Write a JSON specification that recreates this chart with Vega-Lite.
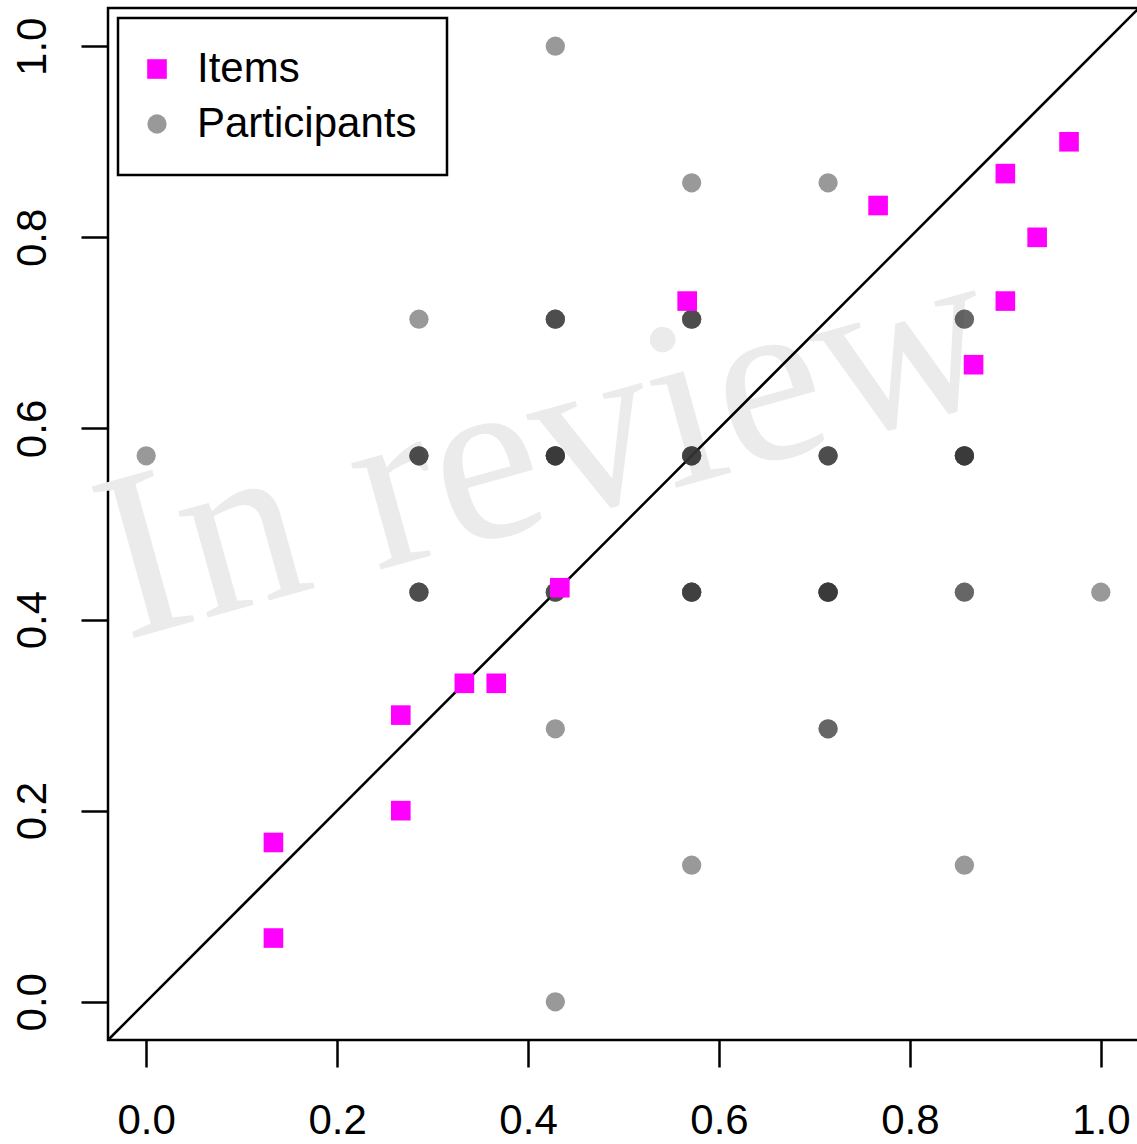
{
  "$schema": "https://vega.github.io/schema/vega-lite/v6.json",
  "width": 1031,
  "height": 1032,
  "autosize": {"type": "none"},
  "padding": {"left": 108, "top": 8, "right": 0, "bottom": 104},
  "background": "white",
  "config": {
    "view": {"stroke": "black", "strokeWidth": 2.5},
    "axis": {
      "domain": false,
      "grid": false,
      "ticks": true,
      "tickSize": 27,
      "tickWidth": 2.5,
      "tickColor": "black",
      "labelFont": "Liberation Sans",
      "labelFontSize": 42,
      "labelColor": "black",
      "labelFlush": false,
      "labelOverlap": false,
      "title": null
    },
    "legend": {
      "orient": "none",
      "legendX": 10,
      "legendY": 10,
      "strokeColor": "black",
      "strokeWidth": 2.5,
      "fillColor": "white",
      "padding": 30,
      "labelFont": "Liberation Sans",
      "labelFontSize": 42,
      "labelColor": "black",
      "labelLimit": 0,
      "labelOffset": 19,
      "symbolOffset": -12,
      "rowPadding": 13,
      "symbolStrokeWidth": 0,
      "title": null
    }
  },
  "encoding": {
    "x": {
      "field": "x",
      "type": "quantitative",
      "scale": {"domain": [-0.04, 1.04], "nice": false, "zero": false},
      "axis": {"values": [0, 0.2, 0.4, 0.6, 0.8, 1.0], "format": ".1f", "labelPadding": 33}
    },
    "y": {
      "field": "y",
      "type": "quantitative",
      "scale": {"domain": [-0.04, 1.04], "nice": false, "zero": false},
      "axis": {"values": [0, 0.2, 0.4, 0.6, 0.8, 1.0], "format": ".1f", "labelAngle": 270, "labelAlign": "center", "labelBaseline": "bottom", "labelPadding": 27}
    }
  },
  "layer": [
    {
      "data": {"values": [{"x": 0.439, "y": 0.506, "label": "In review"}]},
      "mark": {"type": "text", "font": "Liberation Serif", "fontSize": 240, "angle": 344.5, "color": "#ebebeb", "align": "center", "baseline": "alphabetic"},
      "encoding": {"text": {"field": "label"}}
    },
    {
      "data": {"values": [{"x": -0.04, "y": -0.04}, {"x": 1.04, "y": 1.04}]},
      "mark": {"type": "line", "color": "black", "strokeWidth": 2.5},
      "encoding": {}
    },
    {
      "data": {"values": [
        {"group": "Participants", "x": 0, "y": 0.5714},
        {"group": "Participants", "x": 0.2857, "y": 0.7143},
        {"group": "Participants", "x": 0.4286, "y": 1},
        {"group": "Participants", "x": 0.4286, "y": 0.2857},
        {"group": "Participants", "x": 0.4286, "y": 0},
        {"group": "Participants", "x": 0.5714, "y": 0.8571},
        {"group": "Participants", "x": 0.5714, "y": 0.1429},
        {"group": "Participants", "x": 0.7143, "y": 0.8571},
        {"group": "Participants", "x": 0.8571, "y": 0.1429},
        {"group": "Participants", "x": 1, "y": 0.4286},
        {"group": "Participants", "x": 0.8571, "y": 0.7143},
        {"group": "Participants", "x": 0.8571, "y": 0.7143},
        {"group": "Participants", "x": 0.8571, "y": 0.4286},
        {"group": "Participants", "x": 0.8571, "y": 0.4286},
        {"group": "Participants", "x": 0.7143, "y": 0.2857},
        {"group": "Participants", "x": 0.7143, "y": 0.2857},
        {"group": "Participants", "x": 0.4286, "y": 0.7143},
        {"group": "Participants", "x": 0.4286, "y": 0.7143},
        {"group": "Participants", "x": 0.4286, "y": 0.7143},
        {"group": "Participants", "x": 0.5714, "y": 0.7143},
        {"group": "Participants", "x": 0.5714, "y": 0.7143},
        {"group": "Participants", "x": 0.5714, "y": 0.7143},
        {"group": "Participants", "x": 0.2857, "y": 0.5714},
        {"group": "Participants", "x": 0.2857, "y": 0.5714},
        {"group": "Participants", "x": 0.2857, "y": 0.5714},
        {"group": "Participants", "x": 0.4286, "y": 0.5714},
        {"group": "Participants", "x": 0.4286, "y": 0.5714},
        {"group": "Participants", "x": 0.4286, "y": 0.5714},
        {"group": "Participants", "x": 0.4286, "y": 0.5714},
        {"group": "Participants", "x": 0.4286, "y": 0.5714},
        {"group": "Participants", "x": 0.5714, "y": 0.5714},
        {"group": "Participants", "x": 0.5714, "y": 0.5714},
        {"group": "Participants", "x": 0.5714, "y": 0.5714},
        {"group": "Participants", "x": 0.5714, "y": 0.5714},
        {"group": "Participants", "x": 0.7143, "y": 0.5714},
        {"group": "Participants", "x": 0.7143, "y": 0.5714},
        {"group": "Participants", "x": 0.7143, "y": 0.5714},
        {"group": "Participants", "x": 0.8571, "y": 0.5714},
        {"group": "Participants", "x": 0.8571, "y": 0.5714},
        {"group": "Participants", "x": 0.8571, "y": 0.5714},
        {"group": "Participants", "x": 0.8571, "y": 0.5714},
        {"group": "Participants", "x": 0.8571, "y": 0.5714},
        {"group": "Participants", "x": 0.2857, "y": 0.4286},
        {"group": "Participants", "x": 0.2857, "y": 0.4286},
        {"group": "Participants", "x": 0.2857, "y": 0.4286},
        {"group": "Participants", "x": 0.4286, "y": 0.4286},
        {"group": "Participants", "x": 0.4286, "y": 0.4286},
        {"group": "Participants", "x": 0.4286, "y": 0.4286},
        {"group": "Participants", "x": 0.5714, "y": 0.4286},
        {"group": "Participants", "x": 0.5714, "y": 0.4286},
        {"group": "Participants", "x": 0.5714, "y": 0.4286},
        {"group": "Participants", "x": 0.5714, "y": 0.4286},
        {"group": "Participants", "x": 0.7143, "y": 0.4286},
        {"group": "Participants", "x": 0.7143, "y": 0.4286},
        {"group": "Participants", "x": 0.7143, "y": 0.4286},
        {"group": "Participants", "x": 0.7143, "y": 0.4286},
        {"group": "Participants", "x": 0.7143, "y": 0.4286},
        {"group": "Items", "x": 0.1333, "y": 0.1667},
        {"group": "Items", "x": 0.1333, "y": 0.0667},
        {"group": "Items", "x": 0.2667, "y": 0.3},
        {"group": "Items", "x": 0.2667, "y": 0.2},
        {"group": "Items", "x": 0.3333, "y": 0.3333},
        {"group": "Items", "x": 0.3667, "y": 0.3333},
        {"group": "Items", "x": 0.4333, "y": 0.4333},
        {"group": "Items", "x": 0.5667, "y": 0.7333},
        {"group": "Items", "x": 0.7667, "y": 0.8333},
        {"group": "Items", "x": 0.8667, "y": 0.6667},
        {"group": "Items", "x": 0.9, "y": 0.8667},
        {"group": "Items", "x": 0.9, "y": 0.7333},
        {"group": "Items", "x": 0.9333, "y": 0.8},
        {"group": "Items", "x": 0.9667, "y": 0.9}
      ]},
      "mark": {"type": "point", "filled": true, "strokeWidth": 0},
      "encoding": {
        "color": {"field": "group", "type": "nominal", "scale": {"domain": ["Items", "Participants"], "range": ["#ff00ff", "#333333"]}},
        "shape": {"field": "group", "type": "nominal", "scale": {"domain": ["Items", "Participants"], "range": ["square", "circle"]}},
        "opacity": {"field": "group", "type": "nominal", "scale": {"domain": ["Items", "Participants"], "range": [1, 0.5]}},
        "size": {"field": "group", "type": "nominal", "scale": {"domain": ["Items", "Participants"], "range": [385, 372]}}
      }
    }
  ]
}
